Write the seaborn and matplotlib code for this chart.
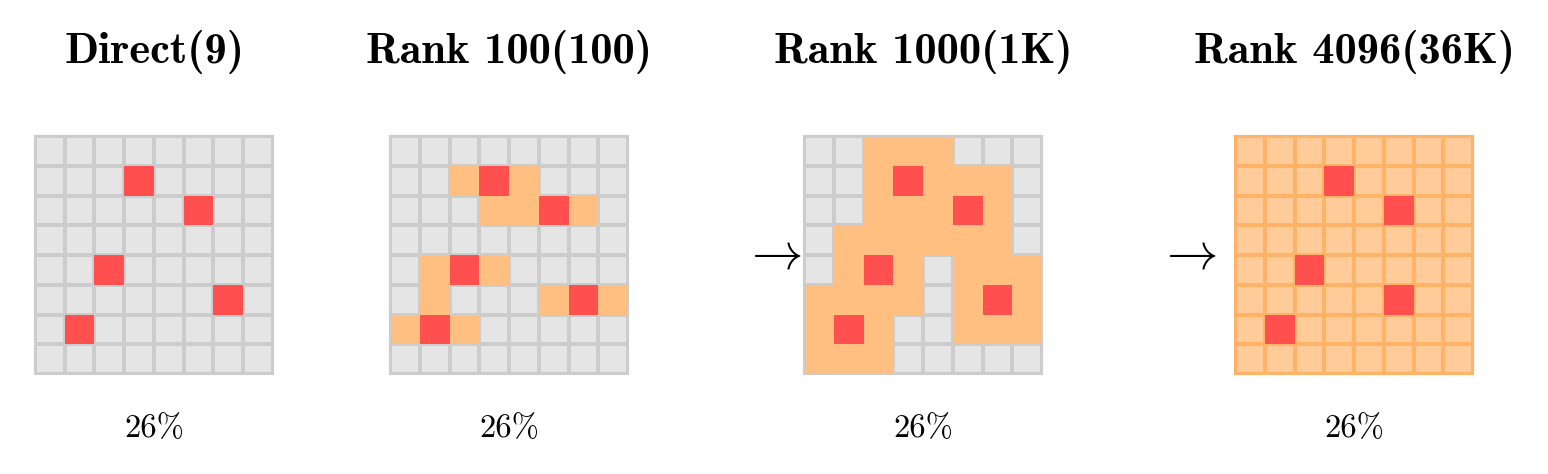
import numpy as np
import matplotlib
matplotlib.use("Agg")
import matplotlib.pyplot as plt
import seaborn as sns
from matplotlib.colors import ListedColormap

sns.set_theme(style="white")
plt.rcParams['mathtext.fontset'] = 'cm'
plt.rcParams['font.family'] = ['DejaVu Serif']
plt.rcParams['text.color'] = 'black'

# ---- data ----
titles = ["Direct(9)", "Rank 100(100)", "Rank 1000(1K)", "Rank 4096(36K)"]
coverage_labels = ["26%", "26%", "26%", "26%"]

# '.' = untouched cell, 'o' = updated cell, 'r' = directly tuned cell
grid_direct = [
    "........",
    "...r....",
    ".....r..",
    "........",
    "..r.....",
    "......r.",
    ".r......",
    "........",
]
grid_rank100 = [
    "........",
    "..oro...",
    "...ooro.",
    "........",
    ".oro....",
    ".o...oro",
    "oro.....",
    "........",
]
grid_rank1000 = [
    "..ooo...",
    "..orooo.",
    "..oooro.",
    ".oooooo.",
    ".oro.ooo",
    "oooo.oro",
    "oro..ooo",
    "ooo.....",
]
grid_rank4096 = [
    "oooooooo",
    "oooroooo",
    "ooooorooo"[:8],
    "oooooooo",
    "oorooooo",
    "oooooroo",
    "oroooooo",
    "oooooooo",
]
grids = [grid_direct, grid_rank100, grid_rank1000, grid_rank4096]

# ---- style ----
GRAY_FACE = "#e5e5e5"
GRAY_LINE = "#cccccc"
ORANGE = "#ffbf80"
LIGHT_ORANGE = "#ffcc99"
ORANGE_LINE = "#ffb366"
RED = "#ff4f4f"

W, H = 1548, 474
fig = plt.figure(figsize=(W / 100, H / 100), dpi=100)

lefts = [35, 390, 804, 1235]
top, size = 136, 238
code = {".": 0, "o": 1, "r": 2}

for i, (g, title, lab) in enumerate(zip(grids, titles, coverage_labels)):
    cat = np.array([[code[c] for c in row] for row in g])
    ax = fig.add_axes([lefts[i] / W, 1 - (top + size) / H, size / W, size / H])
    full = (i == 3)
    sns.heatmap(np.zeros_like(cat), cmap=ListedColormap([GRAY_FACE]), cbar=False,
                linewidths=1.5, linecolor=GRAY_LINE,
                xticklabels=False, yticklabels=False, ax=ax)
    if full:
        sns.heatmap(cat, mask=(cat != 1), cmap=ListedColormap([LIGHT_ORANGE]), cbar=False,
                    linewidths=1.5, linecolor=ORANGE_LINE,
                    xticklabels=False, yticklabels=False, ax=ax)
    else:
        sns.heatmap(cat, mask=(cat != 1), cmap=ListedColormap([ORANGE]), cbar=False,
                    linewidths=0, xticklabels=False, yticklabels=False, ax=ax)
    sns.heatmap(cat, mask=(cat != 2), cmap=ListedColormap([RED]), cbar=False,
                linewidths=0, xticklabels=False, yticklabels=False, ax=ax)
    for s in ax.spines.values():
        s.set_visible(True)
        s.set_color(ORANGE_LINE if full else GRAY_LINE)
        s.set_linewidth(1.5)
    ax.set_aspect("auto")

    cx = (lefts[i] + size / 2) / W
    fig.text(cx, 1 - 63 / H, title, family="cmb10",
             ha="center", va="baseline", fontsize=32, color="black")
    fig.text(cx, 1 - 437 / H, lab, family="cmr10",
             ha="center", va="baseline", fontsize=23.5, color="black")

for ax_x in [772, 1187]:
    fig.text(ax_x / W, 1 - 255 / H, r"$\rightarrow$", ha="center", va="center",
             fontsize=37, color="black")

fig.savefig("out.png", dpi=100)
